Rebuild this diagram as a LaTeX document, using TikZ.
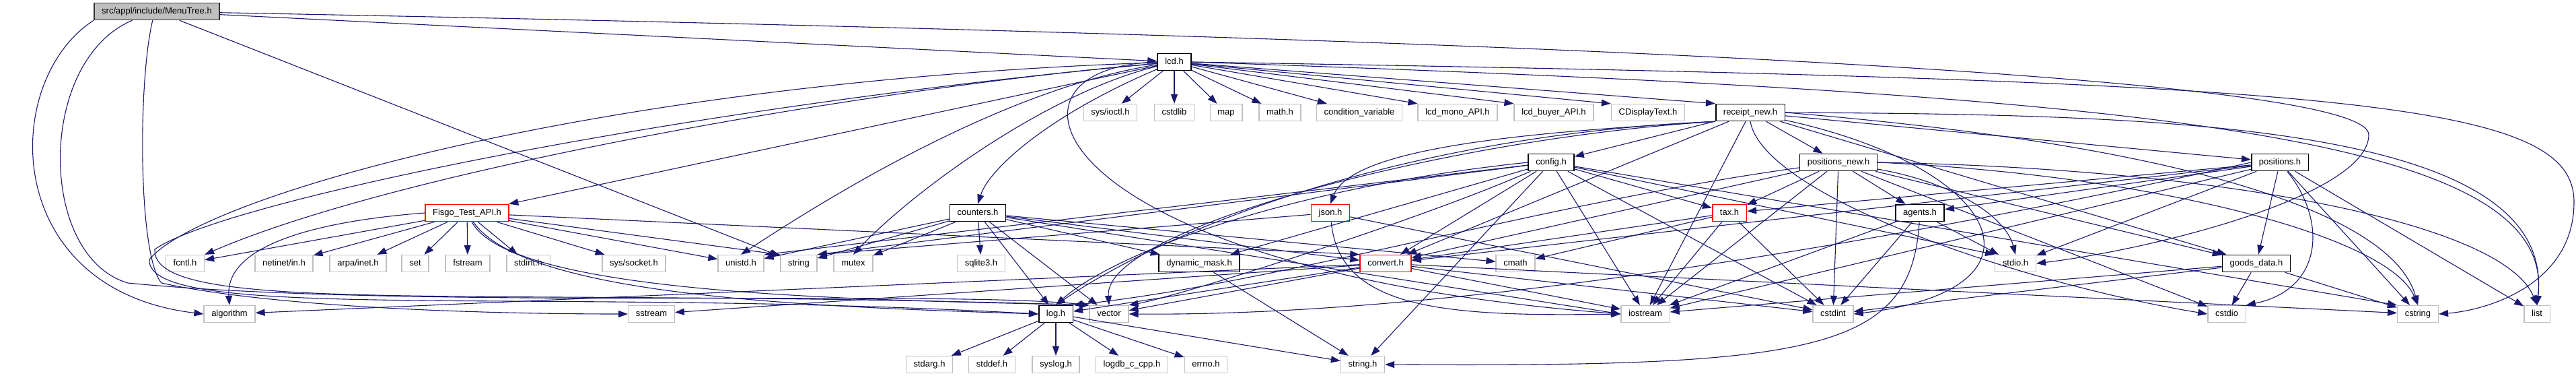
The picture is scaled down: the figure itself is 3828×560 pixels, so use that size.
\documentclass[tikz,border=0pt]{standalone}
\usepackage{fontspec}
\setmainfont{Liberation Sans}
\usetikzlibrary{arrows.meta}

\definecolor{edgeblue}{HTML}{191970}
\definecolor{sysgray}{HTML}{BFBFBF}

\tikzset{
  hdr/.style={draw=sysgray, line width=1.3pt, fill=white, minimum height=25pt,
    inner xsep=11.2pt, inner ysep=0pt, text height=9.4pt, text depth=2.7pt,
    font=\fontsize{13}{15}\selectfont},
  doc/.style={hdr, draw=black, line width=1.6pt},
  trunc/.style={hdr, draw=red, line width=1.6pt},
  root/.style={hdr, draw=black!80, fill=sysgray, line width=1.6pt},
  dep/.style={->, draw=edgeblue, line width=1.1pt}
}

\begin{document}
\begin{tikzpicture}[x=1pt, y=-1pt, >={Triangle[length=14pt,width=10pt]}]
  % Canvas
  \useasboundingbox (0,0) rectangle (3828,560);
  \fill[white] (0,0) rectangle (3828,560);

  % Row 0
  \node[root] (menutree) at (233,17) {src/appl/include/MenuTree.h};

  % Row 1
  \node[doc] (lcd) at (1745,92) {lcd.h};

  % Row 2
  \node[hdr] (ioctl) at (1650,167) {sys/ioctl.h};
  \node[hdr] (cstdlib) at (1745,167) {cstdlib};
  \node[hdr] (map) at (1822,167) {map};
  \node[hdr] (mathh) at (1902,167) {math.h};
  \node[hdr] (condvar) at (2020,167) {condition\_variable};
  \node[hdr] (lcdmono) at (2166,167) {lcd\_mono\_API.h};
  \node[hdr] (lcdbuyer) at (2309,167) {lcd\_buyer\_API.h};
  \node[hdr] (cdisplay) at (2449,167) {CDisplayText.h};
  \node[doc] (receipt) at (2601,167) {receipt\_new.h};

  % Row 3
  \node[doc] (config) at (2305,241) {config.h};
  \node[doc] (posnew) at (2732,241) {positions\_new.h};
  \node[doc] (positions) at (3388,241) {positions.h};

  % Row 4
  \node[trunc] (fisgo) at (694,316) {Fisgo\_Test\_API.h};
  \node[doc] (counters) at (1453,316) {counters.h};
  \node[trunc] (json) at (1977,316) {json.h};
  \node[trunc] (tax) at (2570,316) {tax.h};
  \node[doc] (agents) at (2853,316) {agents.h};

  % Row 5
  \node[hdr] (fcntl) at (275,391) {fcntl.h};
  \node[hdr] (netinet) at (422,391) {netinet/in.h};
  \node[hdr] (arpa) at (532,391) {arpa/inet.h};
  \node[hdr] (set) at (617,391) {set};
  \node[hdr] (fstream) at (695,391) {fstream};
  \node[hdr] (stdinth) at (785,391) {stdint.h};
  \node[hdr] (socket) at (942,391) {sys/socket.h};
  \node[hdr] (unistd) at (1101,391) {unistd.h};
  \node[hdr] (string) at (1187,391) {string};
  \node[hdr] (mutex) at (1268,391) {mutex};
  \node[hdr] (sqlite) at (1458,391) {sqlite3.h};
  \node[doc] (dynmask) at (1782,391) {dynamic\_mask.h};
  \node[trunc] (convert) at (2059,391) {convert.h};
  \node[hdr] (cmath) at (2252,391) {cmath};
  \node[hdr] (stdioh) at (2995,391) {stdio.h};
  \node[doc] (goods) at (3353,391) {goods\_data.h};

  % Row 6
  \node[hdr] (algorithm) at (341,466) {algorithm};
  \node[hdr] (sstream) at (968,466) {sstream};
  \node[doc] (log) at (1569,466) {log.h};
  \node[hdr] (vector) at (1648,466) {vector};
  \node[hdr] (iostream) at (2445,466) {iostream};
  \node[hdr] (cstdint) at (2724,466) {cstdint};
  \node[hdr] (cstdio) at (3309,466) {cstdio};
  \node[hdr] (cstring) at (3593,466) {cstring};
  \node[hdr] (list) at (3770,466) {list};

  % Row 7
  \node[hdr] (stdarg) at (1381,541) {stdarg.h};
  \node[hdr] (stddef) at (1474,541) {stddef.h};
  \node[hdr] (syslog) at (1569,541) {syslog.h};
  \node[hdr] (logdb) at (1682,541) {logdb\_c\_cpp.h};
  \node[hdr] (errno) at (1792,541) {errno.h};
  \node[hdr] (stringh) at (2025,541) {string.h};

  % MenuTree.h
  \draw[dep] (menutree) -- (lcd);
  \draw[dep] (menutree) -- (string);
  \draw[dep] (menutree.188) .. controls (0,120) and (0,430) .. (algorithm.west);
  \draw[dep] (menutree.200) .. controls (55,90) and (55,380) .. (190,420) .. controls (600,460) and (1400,430) .. (vector.north west);
  \draw[dep] (menutree.245) .. controls (205,120) and (205,380) .. (240,420) .. controls (400,455) and (700,466) .. (sstream.west);
  \draw[dep] (menutree) .. controls (2500,60) and (3520,120) .. (3520,200) .. controls (3520,290) and (3200,370) .. (stdioh.east);

  % lcd.h
  \foreach \tgt in {ioctl,cstdlib,map,mathh,condvar,fisgo}
    \draw[dep] (lcd) -- (\tgt);
  \foreach \tgt in {lcdmono,lcdbuyer,cdisplay,receipt}
    \draw[dep] (lcd) -- (\tgt.north west);
  \draw[dep] (lcd) .. controls (1560,170) and (1470,250) .. (counters.north);
  \draw[dep] (lcd) .. controls (1500,130) and (1250,280) .. (unistd.north);
  \draw[dep] (lcd) .. controls (1550,140) and (1350,290) .. (mutex.north);
  \draw[dep] (lcd) .. controls (1300,130) and (600,250) .. (fcntl.north east);
  \draw[dep] (lcd) .. controls (900,120) and (300,290) .. (222,385) .. controls (215,480) and (800,425) .. (log.west);
  \draw[dep] (lcd) .. controls (1000,160) and (330,300) .. (230,370) .. controls (225,470) and (700,425) .. (vector.north west);
  \draw[dep] (lcd.west) .. controls (1450,100) and (1550,400) .. (iostream.west);
  \draw[dep] (lcd.east) .. controls (3200,140) and (3800,200) .. (list.north);
  \draw[dep] (lcd.east) .. controls (3500,120) and (3825,150) .. (3825,300) .. controls (3825,420) and (3700,460) .. (cstring.east);

  % receipt_new.h
  \foreach \tgt in {config,posnew,positions,convert,iostream,goods}
    \draw[dep] (receipt) -- (\tgt);
  \draw[dep] (receipt.south west) .. controls (2300,195) and (2010,215) .. (json.north);
  \draw[dep] (receipt.south west) .. controls (2100,200) and (1750,330) .. (log.north);
  \draw[dep] (receipt.south west) .. controls (2150,205) and (1640,340) .. (vector.north);
  \draw[dep] (receipt.south) .. controls (2620,290) and (3000,420) .. (cstdio.west);
  \draw[dep] (receipt) .. controls (2980,250) and (3060,430) .. (cstdint.east);
  \draw[dep] (receipt.east) .. controls (3300,220) and (3560,330) .. (cstring.north);
  \draw[dep] (receipt.east) .. controls (3200,170) and (3800,180) .. (list.north);

  % config.h
  \foreach \tgt in {convert,dynmask,stringh,iostream,cstdint,tax}
    \draw[dep] (config) -- (\tgt);
  \draw[dep] (config) -- (stdioh.north west);
  \draw[dep] (config) -- (cstring.north west);
  \draw[dep] (config) -- (unistd.north east);
  \draw[dep] (config) -- (string.north east);
  \draw[dep] (config.west) .. controls (1900,280) and (1650,380) .. (log.north);
  \draw[dep] (config) .. controls (2100,330) and (1750,440) .. (vector.north east);

  % counters.h
  \foreach \tgt in {sqlite,dynmask,log,vector,string,mutex,unistd,convert,cmath}
    \draw[dep] (counters) -- (\tgt);
  \draw[dep] (counters) -- (iostream.west);

  % json.h
  \draw[dep] (json) -- (cstdint);
  \draw[dep] (json) -- (string.north east);
  \draw[dep] (json) .. controls (1990,460) and (2150,470) .. (iostream.west);

  % tax.h
  \foreach \tgt in {convert,cmath,iostream,cstdint}
    \draw[dep] (tax) -- (\tgt);

  % agents.h
  \foreach \tgt in {cstdint,iostream,stdioh}
    \draw[dep] (agents) -- (\tgt);
  \draw[dep] (agents) .. controls (2840,520) and (2700,545) .. (stringh.east);

  % positions_new.h
  \foreach \tgt in {tax,agents,cstdint,convert,goods,iostream,cstdio}
    \draw[dep] (posnew) -- (\tgt);
  \draw[dep] (posnew) .. controls (2900,270) and (2980,320) .. (stdioh.north);
  \draw[dep] (posnew) .. controls (2300,300) and (1900,420) .. (log.north east);
  \draw[dep] (posnew.east) .. controls (3200,260) and (3550,350) .. (cstring.north);
  \draw[dep] (posnew.east) .. controls (3300,250) and (3720,330) .. (list.north);

  % positions.h
  \foreach \tgt in {tax,agents,goods,cstring,list,iostream,convert,stdioh}
    \draw[dep] (positions) -- (\tgt);
  \draw[dep] (positions) .. controls (3460,330) and (3450,430) .. (cstdio.north east);
  \draw[dep] (positions.west) .. controls (2900,340) and (2200,470) .. (vector.east);

  % goods_data.h
  \foreach \tgt in {cstdio,cstring,iostream,cstdint}
    \draw[dep] (goods) -- (\tgt);

  % log.h
  \foreach \tgt in {stdarg,stddef,syslog,logdb,errno,stringh}
    \draw[dep] (log) -- (\tgt);

  % dynamic_mask.h
  \draw[dep] (dynmask) -- (stringh);

  % Fisgo_Test_API.h
  \foreach \tgt in {fcntl,netinet,arpa,set,fstream,stdinth,socket,unistd}
    \draw[dep] (fisgo) -- (\tgt);
  \draw[dep] (fisgo) -- (string.north west);
  \draw[dep] (fisgo) -- (convert.north west);
  \draw[dep] (fisgo.west) .. controls (450,330) and (335,370) .. (algorithm.north);
  \draw[dep] (fisgo) .. controls (780,440) and (1200,455) .. (log.west);
  \draw[dep] (fisgo) .. controls (760,440) and (1300,445) .. (vector.north west);

  % convert.h
  \foreach \tgt in {log,vector,iostream,cstdint,cstring,sstream,algorithm}
    \draw[dep] (convert) -- (\tgt);
\end{tikzpicture}
\end{document}
